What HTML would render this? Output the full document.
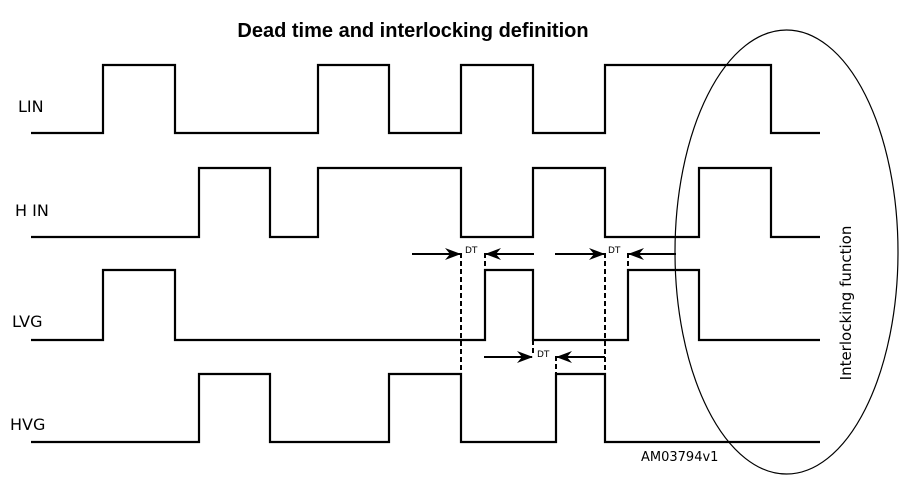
<!DOCTYPE html>
<html><head><style>body{margin:0;background:#fff}</style></head><body>
<svg width="916" height="495" xmlns="http://www.w3.org/2000/svg" style="display:block">
<defs><marker id="a" markerWidth="16" markerHeight="12" refX="15" refY="6" orient="auto" markerUnits="userSpaceOnUse"><path d="M0,0 L16,6 L0,12 L5,6 Z" fill="#000"/></marker></defs>
<text x="413" y="37" font-family="Liberation Sans, sans-serif" font-weight="bold" font-size="20" text-anchor="middle">Dead time and interlocking definition</text>
<g font-family="DejaVu Sans, sans-serif" font-size="16" fill="#000">
<text x="18" y="112">LIN</text><text x="15" y="216">H IN</text><text x="12" y="327">LVG</text><text x="10" y="430">HVG</text>
</g>
<g fill="none" stroke="#000" stroke-width="2.2">
<polyline points="31,133 103,133 103,65 175,65 175,133 318,133 318,65 389,65 389,133 461,133 461,65 533,65 533,133 605,133 605,65 771,65 771,133 820,133"/>
<polyline points="31,237 199,237 199,168 270,168 270,237 318,237 318,168 461,168 461,237 533,237 533,168 605,168 605,237 699,237 699,168 771,168 771,237 820,237"/>
<polyline points="31,340 103,340 103,270 175,270 175,340 485,340 485,270 533,270 533,340 628,340 628,270 699,270 699,340 820,340"/>
<polyline points="31,442 199,442 199,374 270,374 270,442 389,442 389,374 461,374 461,442 556,442 556,374 605,374 605,442 820,442"/>
</g>
<g stroke="#000" stroke-width="2" stroke-dasharray="5,3">
<line x1="461" y1="253" x2="461" y2="374"/><line x1="485" y1="253" x2="485" y2="270"/>
<line x1="533" y1="340" x2="533" y2="356"/><line x1="556" y1="356" x2="556" y2="374"/>
<line x1="605" y1="253" x2="605" y2="374"/><line x1="628" y1="253" x2="628" y2="270"/>
</g>
<g stroke="#000" stroke-width="2">
<line x1="412" y1="254" x2="460" y2="254" marker-end="url(#a)"/>
<line x1="534" y1="254" x2="486" y2="254" marker-end="url(#a)"/>
<line x1="555" y1="254" x2="604" y2="254" marker-end="url(#a)"/>
<line x1="676" y1="254" x2="629" y2="254" marker-end="url(#a)"/>
<line x1="484" y1="357" x2="532" y2="357" marker-end="url(#a)"/>
<line x1="605" y1="357" x2="557" y2="357" marker-end="url(#a)"/>
</g>
<g font-family="DejaVu Sans, sans-serif" font-size="9"><text x="465" y="253">DT</text><text x="608" y="253">DT</text><text x="537" y="357">DT</text></g>
<ellipse cx="786.5" cy="252" rx="111.5" ry="222" fill="none" stroke="#000" stroke-width="1.2"/>
<text transform="translate(851,303) rotate(-90)" font-family="DejaVu Sans, sans-serif" font-size="15" text-anchor="middle">Interlocking function</text>
<text x="641" y="461" font-family="DejaVu Sans, sans-serif" font-size="13">AM03794v1</text>
</svg>
</body></html>
